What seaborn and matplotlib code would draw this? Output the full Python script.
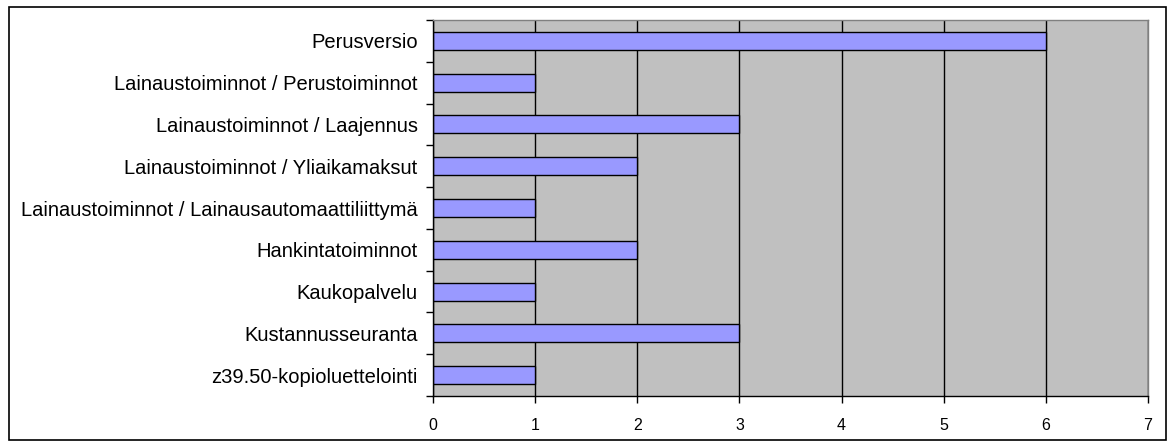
import pandas as pd
import seaborn as sns
import matplotlib.pyplot as plt
import numpy as np
from matplotlib.patches import Rectangle

# Data
categories = [
    "Perusversio",
    "Lainaustoiminnot / Perustoiminnot",
    "Lainaustoiminnot / Laajennus",
    "Lainaustoiminnot / Yliaikamaksut",
    "Lainaustoiminnot / Lainausautomaattiliittymä",
    "Hankintatoiminnot",
    "Kaukopalvelu",
    "Kustannusseuranta",
    "z39.50-kopioluettelointi",
]
counts = [6, 1, 3, 2, 1, 2, 1, 3, 1]
x_ticks = [0, 1, 2, 3, 4, 5, 6, 7]

df = pd.DataFrame({"category": categories, "count": counts})

sns.set_style("white")
plt.rcParams['font.family'] = ['Liberation Sans', 'DejaVu Sans']

fig, ax = plt.subplots(figsize=(11.7, 4.43), dpi=100)
fig.subplots_adjust(left=433 / 1170, right=1148 / 1170, top=1 - 20 / 443, bottom=1 - 396 / 443)

ax.set_facecolor("#C0C0C0")
ax.set_axisbelow(True)
ax.xaxis.grid(True, color="black", linewidth=1)

sns.barplot(data=df, x="count", y="category", orient="h", color="#9999FF",
            saturation=1, width=0.43, edgecolor="black", linewidth=1, ax=ax)

ax.set_xlim(0, 7)
ax.set_ylim(len(categories) - 0.5, -0.5)
ax.set_xticks(x_ticks)
ax.set_xlabel("")
ax.set_ylabel("")

# ticks: y ticks between categories, labels centred
ax.tick_params(axis="y", which="major", length=0, pad=11, labelsize=14.5, labelcolor="black")
ax.set_yticks(np.arange(-0.5, len(categories), 1), minor=True)
ax.tick_params(axis="y", which="minor", length=5, width=1, color="black", direction="out", left=True)
ax.tick_params(axis="x", which="major", length=5, width=1, color="black", direction="out",
               bottom=True, pad=11, labelsize=11.5, labelcolor="black")

for side in ["left", "bottom"]:
    ax.spines[side].set_color("black")
    ax.spines[side].set_linewidth(1)
for side in ["top", "right"]:
    ax.spines[side].set_color("#808080")
    ax.spines[side].set_linewidth(1)

# outer border of chart area
fig.patches.append(Rectangle((9 / 1170, 3 / 443), 1157 / 1170, 433 / 443, transform=fig.transFigure,
                             fill=False, edgecolor="black", linewidth=1.2))

fig.savefig("out.png", dpi=100)
